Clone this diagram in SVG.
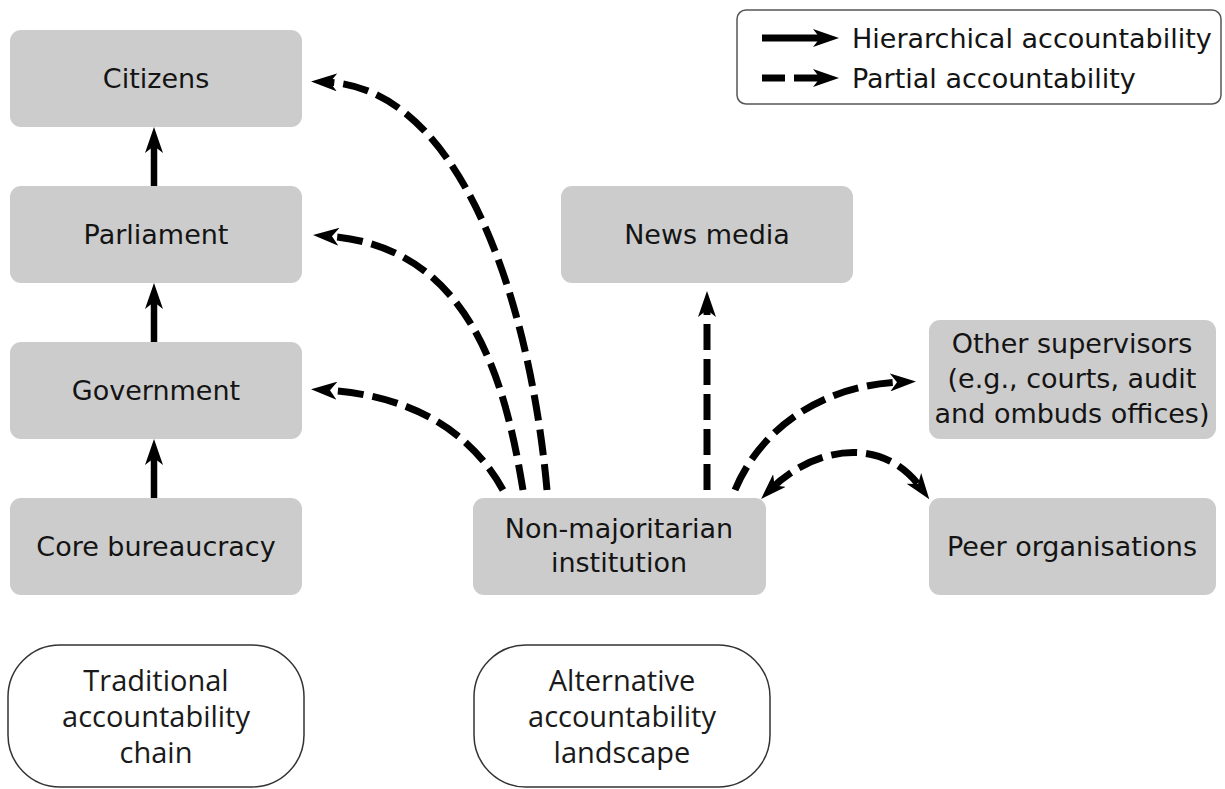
<svg xmlns="http://www.w3.org/2000/svg" width="1225" height="789" viewBox="0 0 1225 789">
<style>
.box{fill:#cccccc;stroke:none}
.pill{fill:#ffffff;stroke:#333333;stroke-width:1.5}
.lbl{font-family:"DejaVu Sans",Verdana,sans-serif;font-size:27px;fill:#141414;text-anchor:middle}
.leg{font-family:"DejaVu Sans",Verdana,sans-serif;font-size:27px;fill:#141414}
.cap{font-family:"Open Sans","DejaVu Sans Condensed",sans-serif;font-size:29px;fill:#1a1a1a;text-anchor:middle}
.solid{fill:none;stroke:#000;stroke-width:6.5;marker-end:url(#ah)}
.dash{fill:none;stroke:#000;stroke-width:7;stroke-dasharray:26 9;marker-end:url(#ah)}
</style>
<defs>
<marker id="ah" viewBox="0 0 26 18" refX="12" refY="9" markerWidth="26" markerHeight="18" markerUnits="userSpaceOnUse" orient="auto-start-reverse">
<path d="M0,0 L26,9 L0,18 L7,9 Z" fill="#000"/>
</marker>
</defs>
<rect width="1225" height="789" fill="#ffffff"/>

<g id="legend">
<rect x="737" y="10" width="484" height="94" rx="9" fill="#fff" stroke="#555" stroke-width="1.5"/>
<path d="M762,38 L825,38" class="solid" style="stroke-width:7"/>
<path d="M762,78 L785,78" stroke="#000" stroke-width="7" fill="none"/>
<path d="M794,78 L825,78" stroke="#000" stroke-width="7" fill="none" marker-end="url(#ah)"/>
<text class="leg" x="852" y="48">Hierarchical accountability</text>
<text class="leg" x="852" y="88">Partial accountability</text>
</g>

<g id="citizens"><rect class="box" x="10" y="30" width="292" height="97" rx="11"/><text class="lbl" x="156" y="88">Citizens</text></g>
<g id="parliament"><rect class="box" x="10" y="186" width="292" height="97" rx="11"/><text class="lbl" x="156" y="244">Parliament</text></g>
<g id="government"><rect class="box" x="10" y="342" width="292" height="97" rx="11"/><text class="lbl" x="156" y="400">Government</text></g>
<g id="core"><rect class="box" x="10" y="498" width="292" height="97" rx="11"/><text class="lbl" x="156" y="556">Core bureaucracy</text></g>
<g id="news"><rect class="box" x="561" y="186" width="292" height="97" rx="11"/><text class="lbl" x="707" y="244">News media</text></g>
<g id="nmi"><rect class="box" x="473" y="498" width="293" height="97" rx="11"/><text class="lbl" x="619" y="538">Non-majoritarian</text><text class="lbl" x="619" y="572">institution</text></g>
<g id="other"><rect class="box" x="929" y="320" width="287" height="119" rx="11"/><text class="lbl" x="1072" y="353">Other supervisors</text><text class="lbl" x="1072" y="388">(e.g., courts, audit</text><text class="lbl" x="1072" y="423">and ombuds offices)</text></g>
<g id="peer"><rect class="box" x="929" y="498" width="287" height="97" rx="11"/><text class="lbl" x="1072" y="556">Peer organisations</text></g>

<g id="traditional"><rect class="pill" x="8" y="645" width="296" height="142" rx="52"/><text class="cap" x="156" y="691">Traditional</text><text class="cap" x="156" y="727">accountability</text><text class="cap" x="156" y="763">chain</text></g>
<g id="alternative"><rect class="pill" x="474" y="645" width="296" height="142" rx="52"/><text class="cap" x="622" y="691">Alternative</text><text class="cap" x="622" y="727">accountability</text><text class="cap" x="622" y="763">landscape</text></g>

<g id="connectors">
<path class="solid" d="M154,186 L154,141"/>
<path class="solid" d="M154,342 L154,297"/>
<path class="solid" d="M154,498 L154,453"/>
<path class="dash" d="M547,490 C530,300 460,86 325,82"/>
<path class="dash" d="M523,490 C505,380 470,246 327,236"/>
<path class="dash" d="M503,490 C470,430 410,395 325,390"/>
<path class="dash" d="M707,490 L707,305"/>
<path class="dash" d="M735,490 C760,430 820,385 902,382"/>
<path class="dash" d="M771,489 C810,450 880,432 921,488" style="marker-start:url(#ah)"/>
</g>
</svg>
